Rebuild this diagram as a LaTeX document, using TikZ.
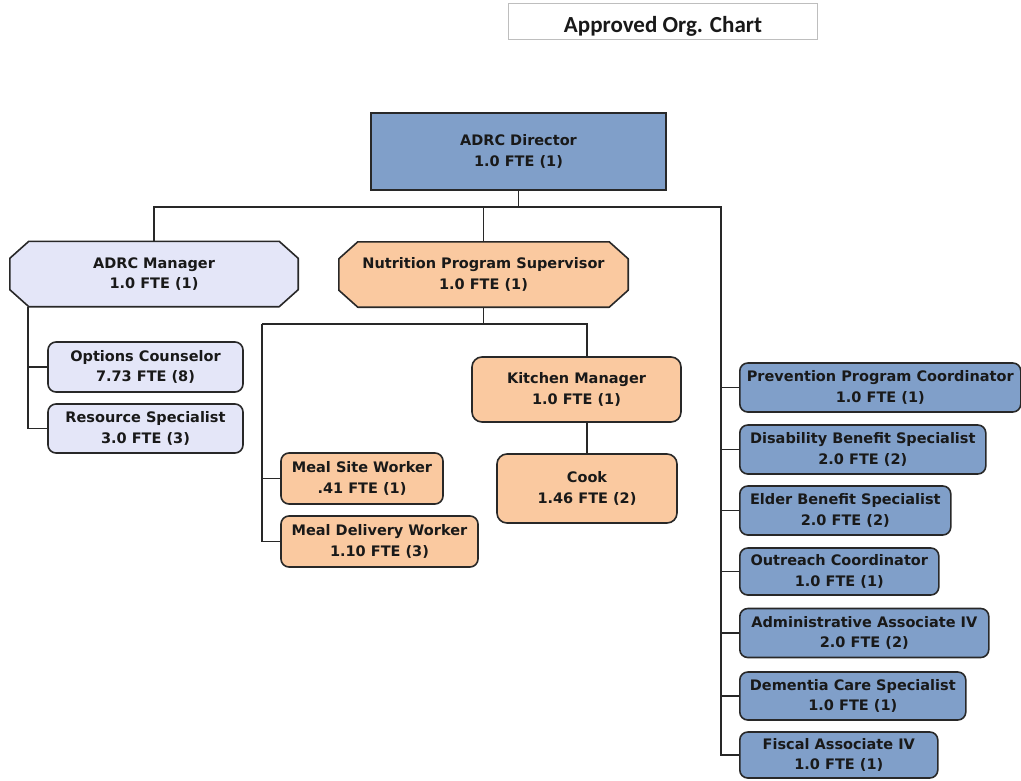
\documentclass[tikz,border=0pt]{standalone}
\usepackage{fontspec}
\setmainfont{DejaVu Sans}
\newfontfamily\titlefont{Carlito}
\usepackage{xcolor}
\usetikzlibrary{backgrounds}
\definecolor{OrgBlue}    {RGB}{128,159,201}
\definecolor{OrgLavender}{RGB}{228,230,248}
\definecolor{OrgPeach}   {RGB}{250,201,160}
\definecolor{OrgLine}    {RGB}{ 40, 40, 40}
\definecolor{OrgFrame}   {RGB}{190,190,190}
% octagon round a node: #1 node name, #2 fill colour
\newcommand{\CutCorners}[2]{%
  \filldraw[fill=#2, draw=OrgLine, line width=1.6pt, line join=round]
    ([xshift=19pt]#1.north west) -- ([xshift=-19pt]#1.north east)
    -- ([yshift=-17pt]#1.north east) -- ([yshift=17pt]#1.south east)
    -- ([xshift=-19pt]#1.south east) -- ([xshift=19pt]#1.south west)
    -- ([yshift=17pt]#1.south west) -- ([yshift=-17pt]#1.north west)
    -- cycle;%
}

\begin{document}
\begin{tikzpicture}[x=1pt, y=-1pt,
    every node/.style={font=\fontsize{14.5}{20.5}\selectfont\bfseries,
                       text=black!90, align=center, inner sep=0pt},
    orgbox/.style={draw=OrgLine, line width=1.6pt, rounded corners=8pt},
    bluebox/.style={orgbox, fill=OrgBlue, anchor=west, minimum height=49pt},
    peachbox/.style={orgbox, fill=OrgPeach},
    lavbox/.style={orgbox, fill=OrgLavender},
    cutbox/.style={minimum height=65pt},
    link/.style={draw=OrgLine, line width=1.6pt}]
  \useasboundingbox (0,0) rectangle (1021,780);

  \node[draw=OrgFrame, line width=1pt, minimum width=309pt, minimum height=36pt]
    (title) at (663,21) {};
  \node[font=\titlefont\fontsize{23}{23}\selectfont\bfseries]
    (titletext) at (663,26) {Approved Org. Chart};

  % top level
  \node[draw=OrgLine, line width=1.6pt, fill=OrgBlue,
        minimum width=295pt, minimum height=77pt]
    (dir) at (518.5,151.5) {ADRC Director\\1.0 FTE (1)};

  \node[cutbox, minimum width=288pt]
    (mgr) at (154,274) {ADRC Manager\\1.0 FTE (1)};
  \node[cutbox, minimum width=289pt]
    (nut) at (483.5,274.5) {Nutrition Program Supervisor\\1.0 FTE (1)};
  \begin{scope}[on background layer]
    \CutCorners{mgr}{OrgLavender}
    \CutCorners{nut}{OrgPeach}
  \end{scope}

  % ADRC manager team
  \node[lavbox, minimum width=195pt, minimum height=50pt]
    (opt) at (145.5,367) {Options Counselor\\7.73 FTE (8)};
  \node[lavbox, minimum width=195pt, minimum height=49pt]
    (res) at (145.5,428.5) {Resource Specialist\\3.0 FTE (3)};

  % nutrition team
  \node[peachbox, rounded corners=10pt, minimum width=209pt, minimum height=65pt]
    (kit) at (576.5,389.5) {Kitchen Manager\\1.0 FTE (1)};
  \node[peachbox, rounded corners=10pt, minimum width=180pt, minimum height=69pt]
    (cook) at (587,488.5) {Cook\\1.46 FTE (2)};
  \node[peachbox, minimum width=162pt, minimum height=51pt]
    (site) at (362,478.5) {Meal Site Worker\\.41 FTE (1)};
  \node[peachbox, minimum width=197pt, minimum height=51pt]
    (deliv) at (379.5,541.5) {Meal Delivery Worker\\1.10 FTE (3)};

  % staff reporting to the director
  \node[bluebox, minimum width=281pt] (prev) at (739,387.5)
    {Prevention Program Coordinator\\1.0 FTE (1)};
  \node[bluebox, minimum width=246pt] (dis) at (739,449.5)
    {Disability Benefit Specialist\\2.0 FTE (2)};
  \node[bluebox, minimum width=211pt] (eld) at (739,510.5)
    {Elder Benefit Specialist\\2.0 FTE (2)};
  \node[bluebox, minimum width=199pt, minimum height=47pt] (out) at (739,571.5)
    {Outreach Coordinator\\1.0 FTE (1)};
  \node[bluebox, minimum width=249pt] (adm) at (739,633)
    {Administrative Associate IV\\2.0 FTE (2)};
  \node[bluebox, minimum width=226pt, minimum height=48pt] (dem) at (739,696)
    {Dementia Care Specialist\\1.0 FTE (1)};
  \node[bluebox, minimum width=198pt, minimum height=46pt] (fis) at (739,755)
    {Fiscal Associate IV\\1.0 FTE (1)};

  \coordinate (bus)   at (154,207);
  \coordinate (spine) at (721,207);
  \coordinate (mleft) at (28,307);
  \coordinate (nbus)  at (262,324);

  \draw[link] (dir.south) -- (dir.south |- bus);
  \draw[link] (mgr.north) -- (bus) -- (spine) -- (spine |- fis.west) -- (fis.west);
  \draw[link] (nut.north) -- (nut.north |- bus);
  \foreach \n in {prev,dis,eld,out,adm,dem}
    \draw[link] (spine |- \n.west) -- (\n.west);

  \draw[link] (mleft) |- (res.west);
  \draw[link] (mleft |- opt.west) -- (opt.west);

  \draw[link] (nut.south) -- (nut.south |- nbus);
  \draw[link] (nbus) -| (cook.north |- kit.north);
  \draw[link] (cook.north |- kit.south) -- (cook.north);
  \draw[link] (nbus) |- (deliv.west);
  \draw[link] (nbus |- site.west) -- (site.west);
\end{tikzpicture}
\end{document}
